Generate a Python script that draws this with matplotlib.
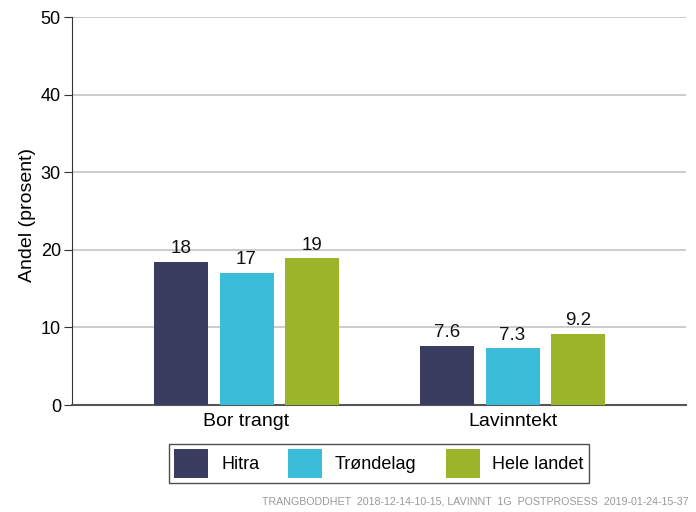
import numpy as np
import matplotlib
matplotlib.use("Agg")
import matplotlib.pyplot as plt
from matplotlib.patches import Patch

plt.rcParams["font.family"] = ["Liberation Sans", "DejaVu Sans"]

categories = ["Bor trangt", "Lavinntekt"]
series = ["Hitra", "Trøndelag", "Hele landet"]
hitra = [18.45, 7.6]
trondelag = [17.05, 7.3]
hele_landet = [18.9, 9.2]
labels = [["18", "7.6"], ["17", "7.3"], ["19", "9.2"]]
colors = ["#3a3c60", "#3bbcd9", "#9ab52a"]
footer = "TRANGBODDHET  2018-12-14-10-15, LAVINNT  1G  POSTPROSESS  2019-01-24-15-37"

fig = plt.figure(figsize=(6.96, 5.12), dpi=100)
ax = fig.add_axes([72 / 696, 1 - 405 / 512, 614 / 696, 388 / 512])

x = np.arange(len(categories))
step, width = 0.246, 0.203
for i, (vals, c) in enumerate(zip([hitra, trondelag, hele_landet], colors)):
    pos = x + (i - 1) * step
    ax.bar(pos, vals, width, color=c, zorder=3)
    for p, v, t in zip(pos, vals, labels[i]):
        ax.text(p, v + 0.6, t, ha="center", va="bottom", fontsize=13.5, color="#111111")

ax.set_xlim(-0.656, 1.652)
ax.set_ylim(0, 50)
ax.set_yticks(range(0, 51, 10))
ax.set_xticks(x)
ax.set_xticklabels(categories, fontsize=14)
ax.tick_params(axis="x", length=0, pad=6)
ax.tick_params(axis="y", labelsize=13, length=6, color="#333333", pad=2)
ax.yaxis.grid(True, color="#c8c8c8", lw=1.3, zorder=0)
ax.set_axisbelow(True)
for s in ["top", "right"]:
    ax.spines[s].set_visible(False)
ax.spines["left"].set_color("#333333")
ax.spines["bottom"].set_color("#555555")
ax.spines["bottom"].set_linewidth(1.5)
ax.set_ylabel("Andel (prosent)", fontsize=14)
ax.yaxis.set_label_coords(-0.058, 0.49)

handles = [Patch(facecolor=c, label=s) for c, s in zip(colors, series)]
leg = fig.legend(handles=handles, loc="center", bbox_to_anchor=(379 / 696, 1 - 463.5 / 512),
                 ncol=3, fontsize=13, frameon=True, fancybox=False, edgecolor="#222222",
                 handlelength=1.9, handleheight=2.05, columnspacing=1.6, handletextpad=0.7,
                 borderpad=0.3)
leg.get_frame().set_linewidth(1.0)

fig.text(688 / 696, 1 - 502 / 512, footer, ha="right", va="center", fontsize=7.7, color="#999999")

fig.savefig("out.png", dpi=100)
